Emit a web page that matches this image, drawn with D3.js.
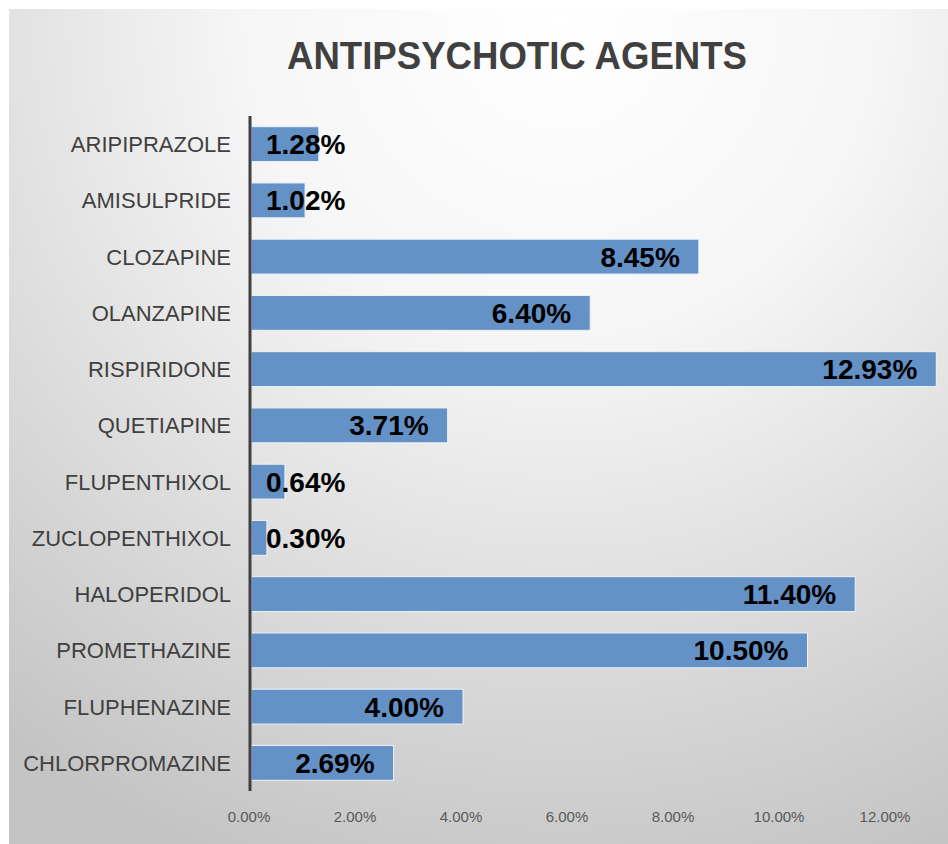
<!doctype html>
<html lang="en">
<head>
	<meta charset="utf-8">
	<title>Antipsychotic agents</title>
	<script src="https://d3js.org/d3.v7.min.js"></script>
	<style>
		body { margin: 0; background: #fff; }
		svg { display: block; }
	</style>
</head>
<body>
	<script>
		var width = 948;
		var height = 844;

		// data, top to bottom
		var drugs = ["ARIPIPRAZOLE", "AMISULPRIDE", "CLOZAPINE", "OLANZAPINE", "RISPIRIDONE", "QUETIAPINE",
			"FLUPENTHIXOL", "ZUCLOPENTHIXOL", "HALOPERIDOL", "PROMETHAZINE", "FLUPHENAZINE", "CHLORPROMAZINE"];
		var percents = [1.28, 1.02, 8.45, 6.40, 12.93, 3.71, 0.64, 0.30, 11.40, 10.50, 4.00, 2.69];
		var ticks = [0, 2, 4, 6, 8, 10, 12];
		var title = "ANTIPSYCHOTIC AGENTS";

		var font = "'Liberation Sans', Arial, sans-serif";

		var svg = d3.select("body").append("svg")
			.attr("width", width)
			.attr("height", height);

		// soft radial background like the office chart style
		var grad = svg.append("defs").append("radialGradient")
			.attr("id", "bg")
			.attr("gradientUnits", "userSpaceOnUse")
			.attr("cx", 560).attr("cy", 20).attr("r", 900);
		grad.append("stop").attr("offset", 0).attr("stop-color", "#ffffff");
		grad.append("stop").attr("offset", 0.35).attr("stop-color", "#f6f6f6");
		grad.append("stop").attr("offset", 1).attr("stop-color", "#c4c4c4");

		svg.append("rect")
			.attr("x", 9).attr("y", 9)
			.attr("width", width - 9).attr("height", height - 9)
			.attr("fill", "url(#bg)");

		var x = d3.scaleLinear().domain([0, 13]).range([251, 940]);
		var y = d3.scaleBand().domain(drugs).range([116, 791])
			.paddingInner(0.38).paddingOuter(0.19);

		// title
		svg.append("text")
			.attr("x", 517).attr("y", 69)
			.attr("text-anchor", "middle")
			.style("font-family", font)
			.style("font-weight", "bold")
			.style("font-size", "38px")
			.attr("fill", "#404040")
			.attr("textLength", 460)
			.attr("lengthAdjust", "spacingAndGlyphs")
			.text(title);

		// bars
		svg.selectAll("rect.bar")
			.data(percents)
			.enter()
			.append("rect")
			.attr("class", "bar")
			.attr("x", x(0))
			.attr("y", function(d, i) { return y(drugs[i]); })
			.attr("width", function(d) { return x(d) - x(0); })
			.attr("height", y.bandwidth())
			.attr("fill", "#6491c6")
			.attr("stroke", "#eef3f9")
			.attr("stroke-width", 1);

		// vertical axis line
		svg.append("line")
			.attr("x1", 250).attr("x2", 250)
			.attr("y1", 116).attr("y2", 791)
			.attr("stroke", "#404040")
			.attr("stroke-width", 3);

		// category labels
		svg.selectAll("text.cat")
			.data(drugs)
			.enter()
			.append("text")
			.attr("class", "cat")
			.attr("x", 231)
			.attr("y", function(d) { return y(d) + y.bandwidth() / 2; })
			.attr("dy", "0.36em")
			.attr("text-anchor", "end")
			.style("font-family", font)
			.style("font-size", "22px")
			.attr("fill", "#404040")
			.text(function(d) { return d; });

		// value labels, inside end, pushed out when the bar is too short
		svg.selectAll("text.val")
			.data(percents)
			.enter()
			.append("text")
			.attr("class", "val")
			.attr("y", function(d, i) { return y(drugs[i]) + y.bandwidth() / 2; })
			.attr("dy", "0.36em")
			.style("font-family", font)
			.style("font-weight", "bold")
			.style("font-size", "28px")
			.attr("fill", "#000")
			.text(function(d) { return d.toFixed(2) + "%"; })
			.each(function(d) {
				var w = this.getComputedTextLength();
				var left = Math.max(x(d) - 19 - w, 266);
				d3.select(this).attr("x", left);
			});

		// x tick labels
		svg.selectAll("text.tick")
			.data(ticks)
			.enter()
			.append("text")
			.attr("class", "tick")
			.attr("x", function(d) { return x(d) - 2; })
			.attr("y", 822)
			.attr("text-anchor", "middle")
			.style("font-family", font)
			.style("font-size", "15px")
			.attr("fill", "#595959")
			.text(function(d) { return d.toFixed(2) + "%"; });
	</script>
</body>
</html>
